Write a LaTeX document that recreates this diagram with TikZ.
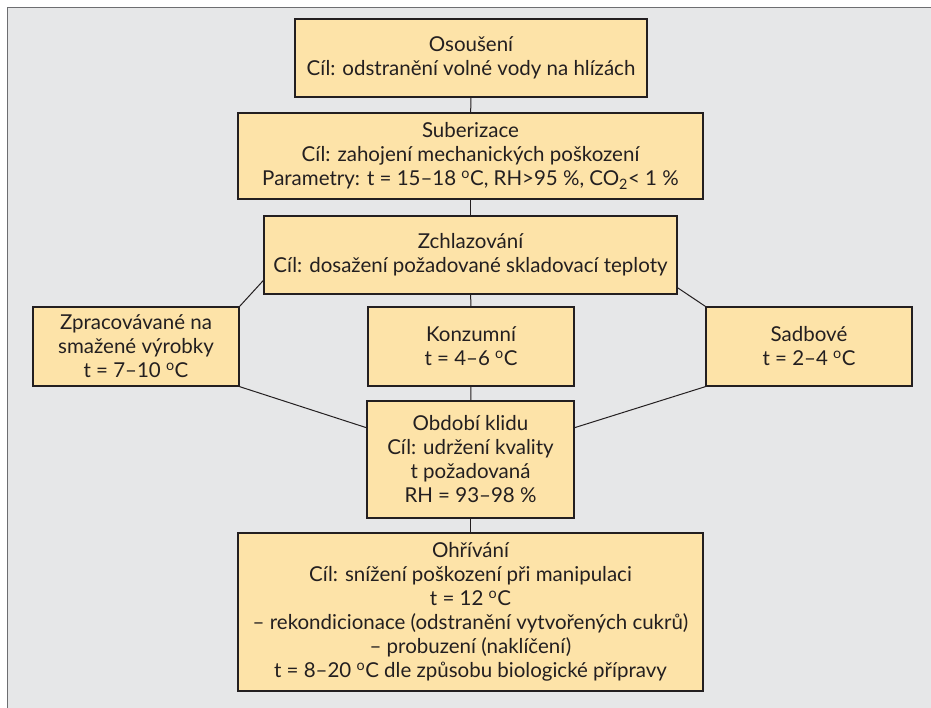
\documentclass[tikz,border=0pt]{standalone}
\usepackage{fontspec}
\setmainfont{Lato}
\usepackage{xcolor}
\usepackage{tikz}
\definecolor{panelgrey}{HTML}{E6E7E8}
\definecolor{framegrey}{HTML}{6D6E71}
\definecolor{boxfill}{HTML}{FDE3A8}
\definecolor{ink}{HTML}{231F20}

\newcommand{\stc}{\textsuperscript{o}C}

\begin{document}
\begin{tikzpicture}[x=1pt,y=-1pt,
	stage/.style={draw=ink,line width=1.3pt,fill=boxfill,inner sep=0pt,
		align=center,font=\fontsize{20.5}{24}\selectfont,text=ink},
	link/.style={draw=ink,line width=1pt}]
		\useasboundingbox (0,0) rectangle (931,707);
		\fill[white] (0,0) rectangle (931,707);
		\draw[framegrey,fill=panelgrey,line width=1pt] (7,7) rectangle (945,720);
		%
		\node[stage,minimum width=352pt,minimum height=78pt] (osou) at (471,58)
			{Osoušení\\Cíl: odstranění volné vody na hlízách};
		\node[stage,minimum width=465pt,minimum height=86pt] (suber) at (470.5,156)
			{Suberizace\\Cíl: zahojení mechanických poškození\\
			Parametry: t = 15--18 \stc, RH>95 \%, CO\textsubscript{2}< 1 \%};
		\node[stage,minimum width=413pt,minimum height=78pt] (zchl) at (470.5,255)
			{Zchlazování\\Cíl: dosažení požadované skladovací teploty};
		\node[stage,minimum width=206pt,minimum height=79pt] (zprac) at (136,346.5)
			{Zpracovávané na\\smažené výrobky\\t = 7--10 \stc};
		\node[stage,minimum width=206pt,minimum height=79pt] (konz) at (471,346.5)
			{Konzumní\\t = 4--6 \stc};
		\node[stage,minimum width=206pt,minimum height=79pt] (sadb) at (809,346.5)
			{Sadbové\\t = 2--4 \stc};
		\node[stage,minimum width=207pt,minimum height=117pt] (klid) at (470.5,459.5)
			{Období klidu\\Cíl: udržení kvality\\t požadovaná\\RH = 93--98 \%};
		\node[stage,minimum width=465pt,minimum height=158pt] (ohri) at (470.5,612)
			{Ohřívání\\Cíl: snížení poškození při manipulaci\\t = 12 \stc\\
			-- rekondicionace (odstranění vytvořených cukrů)\\
			-- probuzení (naklíčení)\\
			t = 8--20 \stc{} dle způsobu biologické přípravy};
				%
		\path[link]
			(osou) edge (suber)
			(suber) edge (zchl)
			(zchl) edge (konz)
			(konz) edge (klid)
			(klid) edge (ohri)
			(zchl.187.2) edge (zprac.north east)
			(zchl.-9.4) edge (sadb.north west)
			(zprac.south east) edge (klid.163)
			(sadb.south west) edge (klid.17);
	\end{tikzpicture}
\end{document}
